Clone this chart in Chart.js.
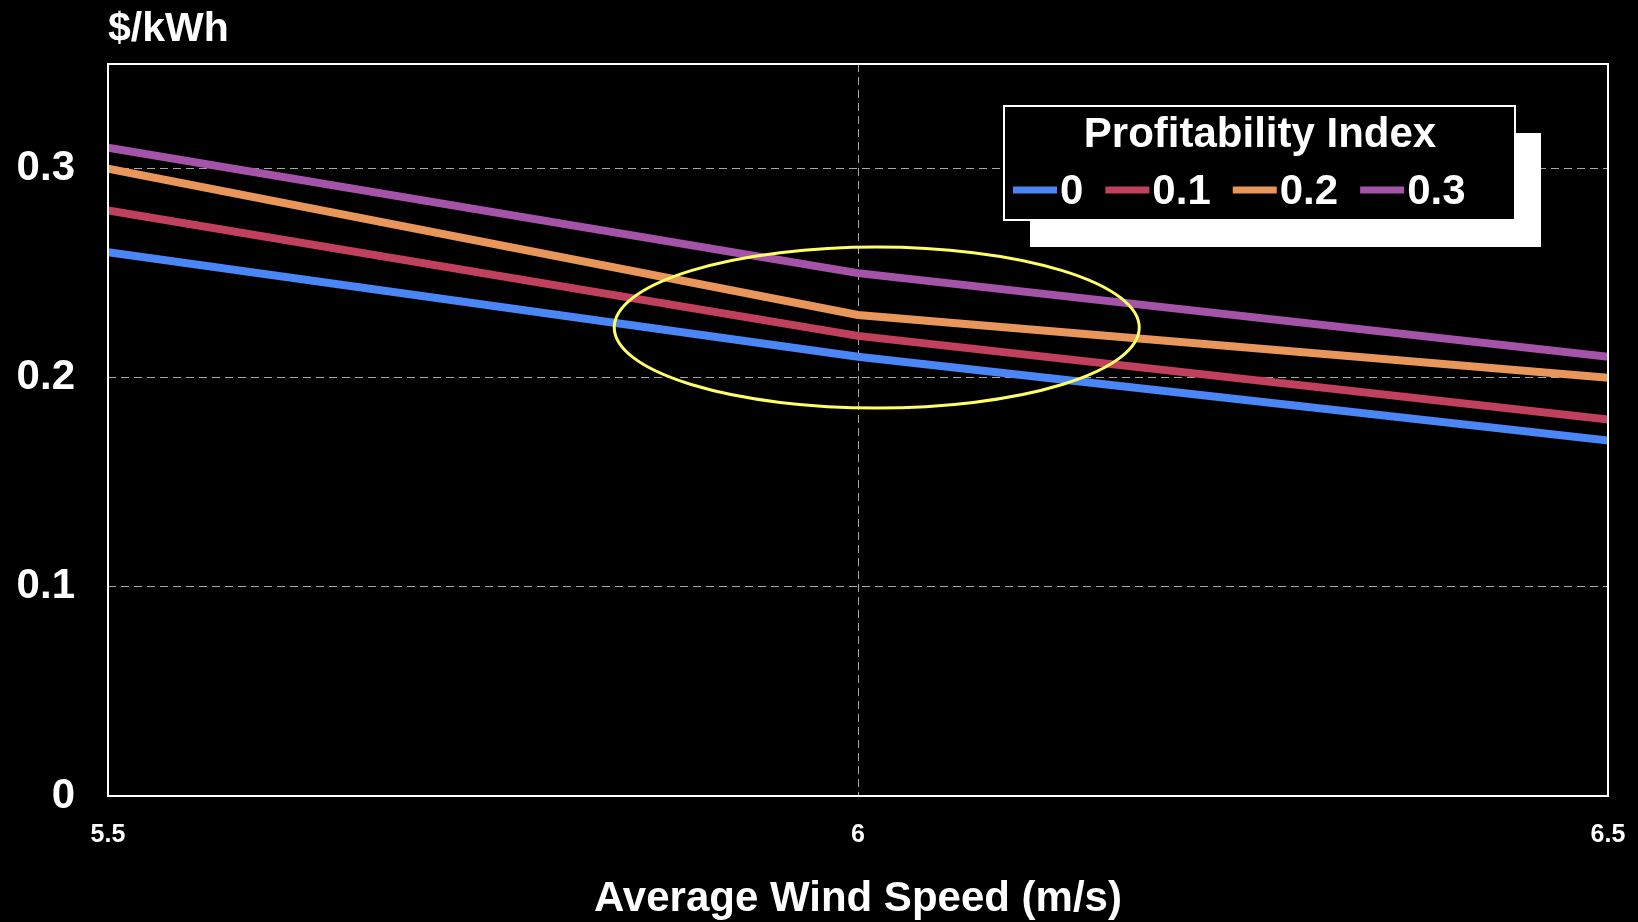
<!DOCTYPE html>
<html>
<head>
<meta charset="utf-8">
<script src="https://cdn.jsdelivr.net/npm/chart.js@4"></script>
<style>
  body { margin: 0; background: #000; }
  #wrap { width: 1638px; height: 922px; }
</style>
</head>
<body>
<div id="wrap"><canvas id="myChart" width="1638" height="922"></canvas></div>
<script>
var velocidad = [5.5, 6, 6.5];
var indice0 = [0.26, 0.21, 0.17];
var indice01 = [0.28, 0.22, 0.18];
var indice02 = [0.30, 0.23, 0.20];
var indice03 = [0.31, 0.25, 0.21];
var nombres = ['0', '0.1', '0.2', '0.3'];
var colores = ['#4a86f5', '#c0405e', '#e8965a', '#a553a8'];
var series = [indice0, indice01, indice02, indice03];

var fuente = '"Liberation Sans", Arial, sans-serif';

function puntos(valores) {
    var p = [];
    for (var i = 0; i < velocidad.length; i++) {
        p.push({x: velocidad[i], y: valores[i]});
    }
    return p;
}

var datasets = [];
for (var i = 0; i < series.length; i++) {
    datasets.push({
        label: nombres[i],
        data: puntos(series[i]),
        borderColor: colores[i],
        backgroundColor: colores[i],
        borderWidth: 8,
        borderCapStyle: 'square',
        pointRadius: 0,
        tension: 0
    });
}

// marco, elipse, unidad y leyenda
var extras = {
    id: 'extras',
    afterDatasetsDraw: function(chart) {
        var c = chart.ctx, a = chart.chartArea;
        var sx = chart.scales.x, sy = chart.scales.y;
        c.save();

        c.strokeStyle = '#ffffff';
        c.lineWidth = 2;
        c.strokeRect(a.left, a.top, a.right - a.left, a.bottom - a.top);

        // elipse amarilla
        var cx = sx.getPixelForValue(6.0125), cy = sy.getPixelForValue(0.224);
        var rx = sx.getPixelForValue(6.0125 + 0.175) - cx;
        var ry = cy - sy.getPixelForValue(0.224 + 0.0385);
        c.strokeStyle = '#ffff66';
        c.lineWidth = 3;
        c.beginPath();
        c.ellipse(cx, cy, rx, ry, 0, 0, Math.PI * 2);
        c.stroke();

        // unidad
        c.fillStyle = '#ffffff';
        c.font = 'bold 41px ' + fuente;
        c.textAlign = 'left';
        c.textBaseline = 'middle';
        c.fillText('$/kWh', a.left, 30);

        // leyenda
        c.fillStyle = '#ffffff';
        c.fillRect(1030, 133, 511, 114);
        c.fillStyle = '#000000';
        c.fillRect(1004, 106, 511, 114);
        c.strokeStyle = '#ffffff';
        c.lineWidth = 2;
        c.strokeRect(1004, 106, 511, 114);

        c.fillStyle = '#ffffff';
        c.font = 'bold 42px ' + fuente;
        c.textAlign = 'center';
        c.fillText('Profitability Index', 1260, 135);

        c.textAlign = 'left';
        var x = 1013;
        for (var i = 0; i < chart.data.datasets.length; i++) {
            var ds = chart.data.datasets[i];
            c.strokeStyle = ds.borderColor;
            c.lineWidth = 7;
            c.beginPath();
            c.moveTo(x, 190);
            c.lineTo(x + 44, 190);
            c.stroke();
            c.fillStyle = '#ffffff';
            c.fillText(ds.label, x + 47, 192);
            x += 48 + c.measureText(ds.label).width + 21;
        }
        c.restore();
    }
};

var ctx = document.getElementById('myChart').getContext('2d');
var chart = new Chart(ctx, {
    type: 'line',
    data: {datasets: datasets},
    options: {
        responsive: false,
        animation: false,
        devicePixelRatio: 1,
        layout: {padding: {top: 64, right: 30, bottom: 0, left: 0}},
        plugins: {
            legend: {display: false},
            tooltip: {enabled: false}
        },
        scales: {
            x: {
                type: 'linear',
                min: 5.5,
                max: 6.5,
                border: {display: false, dash: [8, 5]},
                grid: {
                    drawTicks: false,
                    color: function(c) { return c.tick && c.tick.value === 6 ? '#a6a6a6' : 'rgba(0,0,0,0)'; }
                },
                ticks: {
                    stepSize: 0.5,
                    color: '#ffffff',
                    padding: 24,
                    maxRotation: 0,
                    font: {family: fuente, size: 25, weight: 'bold'},
                    callback: function(v) { return '' + v; }
                },
                title: {
                    display: true,
                    text: 'Average Wind Speed (m/s)',
                    color: '#ffffff',
                    padding: {top: 0, bottom: -3},
                    font: {family: fuente, size: 42, weight: 'bold'}
                },
                afterFit: function(s) {
                    s.height = 126;
                    s.paddingLeft = 0;
                    s.paddingRight = 0;
                }
            },
            y: {
                min: 0,
                max: 0.35,
                border: {display: false, dash: [8, 5]},
                grid: {
                    drawTicks: false,
                    color: function(c) { return c.tick && c.tick.value > 0 ? '#a6a6a6' : 'rgba(0,0,0,0)'; }
                },
                ticks: {
                    stepSize: 0.1,
                    includeBounds: false,
                    color: '#ffffff',
                    padding: 33,
                    font: {family: fuente, size: 42, weight: 'bold'},
                    callback: function(v) { return '' + v; }
                },
                afterFit: function(s) { s.width = 108; }
            }
        }
    },
    plugins: [extras]
});
</script>
</body>
</html>
